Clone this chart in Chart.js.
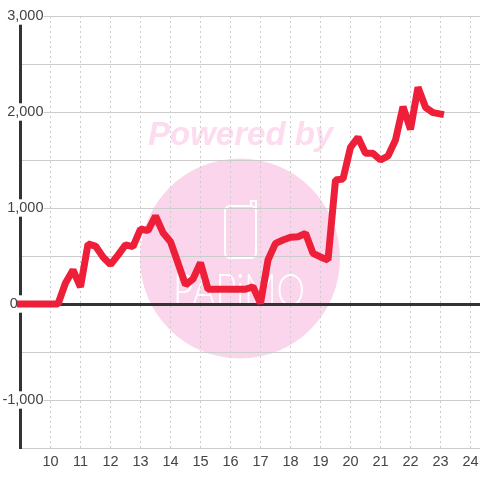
<!DOCTYPE html>
<html lang="ja">
<head>
  <meta charset="UTF-8">
  <title>Chart</title>
  <script src="https://cdn.jsdelivr.net/npm/chart.js"></script>
  <style>
    html, body { margin: 0; padding: 0; background: #fff; }
    canvas { display: block; }
  </style>
</head>
<body>

<canvas id="chart" width="480" height="480"></canvas>

<script>
// 時刻 (0.25刻み)
const hours = [
  9, 9.25, 9.5, 9.75, 10, 10.25, 10.5, 10.75, 11, 11.25, 11.5, 11.75,
  12, 12.25, 12.5, 12.75, 13, 13.25, 13.5, 13.75, 14, 14.25, 14.5, 14.75,
  15, 15.25, 15.5, 15.75, 16, 16.25, 16.5, 16.75, 17, 17.25, 17.5, 17.75,
  18, 18.25, 18.5, 18.75, 19, 19.25, 19.5, 19.75, 20, 20.25, 20.5, 20.75,
  21, 21.25, 21.5, 21.75, 22, 22.25, 22.5, 22.75, 23
];
const values = [
  0, 0, 0, 0, 0, 0, 219, 354, 177, 625, 604, 490,
  410, 510, 615, 597, 781, 764, 917, 743, 649, 427, 198, 260,
  430, 153, 153, 153, 153, 153, 153, 180, 7, 458, 632, 667,
  695, 701, 736, 528, 490, 458, 1292, 1302, 1632, 1736, 1570, 1570,
  1500, 1542, 1708, 2055, 1820, 2257, 2049, 1993, 1979
];
const yTickLabels = { "3000": "3,000", "2000": "2,000", "1000": "1,000", "0": "0\u2003\u2002\u00a0", "-1000": "-1,000" };

// 透かし
const watermark = {
  id: 'watermark',
  beforeDraw(chart) {
    const ctx = chart.ctx;
    ctx.save();
    ctx.fillStyle = '#fbd5ec';
    ctx.beginPath();
    ctx.arc(240, 258.5, 100, 0, Math.PI * 2);
    ctx.fill();

    ctx.fillStyle = '#fcdcee';
    ctx.font = 'italic bold 33px "Liberation Sans"';
    ctx.textAlign = 'left';
    ctx.textBaseline = 'alphabetic';
    ctx.fillText('Powered by', 148, 145);

    ctx.strokeStyle = '#fff';
    ctx.lineWidth = 2;
    ctx.beginPath();
    ctx.roundRect(225, 206, 31, 52, 5);
    ctx.moveTo(251, 206);
    ctx.lineTo(251, 201);
    ctx.lineTo(256, 201);
    ctx.lineTo(256, 208);
    ctx.stroke();

    ctx.fillStyle = '#fff';
    ctx.font = '300 46px Lato';
    ctx.fillText('PAPiMO', 173, 306, 132);
    ctx.restore();
  }
};

new Chart(document.getElementById('chart').getContext('2d'), {
  type: 'line',
  data: {
    labels: hours,
    datasets: [{
      data: hours.map((h, i) => ({ x: h, y: values[i] })),
      borderColor: '#ee1f38',
      borderWidth: 7,
      borderCapStyle: 'square',
      borderJoinStyle: 'bevel',
      pointRadius: 0,
      tension: 0,
      clip: false,
      fill: false
    }]
  },
  plugins: [watermark],
  options: {
    responsive: false,
    animation: false,
    events: [],
    layout: { padding: { top: 16, right: 0, bottom: 0, left: 0 } },
    plugins: { legend: { display: false }, title: { display: false }, tooltip: { enabled: false } },
    scales: {
      x: {
        type: 'linear',
        min: 9,
        max: 24.317,
        afterFit(s) { s.height = 32; s.paddingLeft = 0; s.paddingRight = 0; },
        grid: {
          drawTicks: false,
          color: '#cccccc',
          lineWidth: c => c.tick.value === 9 ? 0 : 1
        },
        border: { display: true, color: '#cccccc', width: 1, dash: [2, 3] },
        ticks: {
          stepSize: 1,
          includeBounds: false,
          autoSkip: false,
          maxRotation: 0,
          padding: 5,
          color: '#444444',
          font: { family: '"Liberation Sans"', size: 14.5 },
          callback: v => v === 9 ? '' : String(v)
        }
      },
      y: {
        min: -1500,
        max: 3000,
        afterFit(s) {
          s.width = 20.5;
          s.paddingTop = 0;
          s.paddingBottom = 0;
          // ラベルが軸の幅で切られないように
          s._computeLabelArea = () => undefined;
        },
        grid: {
          drawTicks: false,
          color: c => c.tick.value === 0 ? '#333333' : '#cccccc',
          lineWidth: c => c.tick.value === 0 ? 3 : 1
        },
        border: { display: true, color: '#333333', width: 3 },
        ticks: {
          stepSize: 500,
          autoSkip: false,
          padding: -23,
          color: '#444444',
          font: { family: '"Liberation Sans"', size: 14.5 },
          showLabelBackdrop: c => yTickLabels[c.tick.value] !== undefined,
          backdropColor: '#ffffff',
          backdropPadding: 0,
          callback: v => yTickLabels[v] || ''
        }
      }
    }
  }
});
</script>

</body>
</html>
